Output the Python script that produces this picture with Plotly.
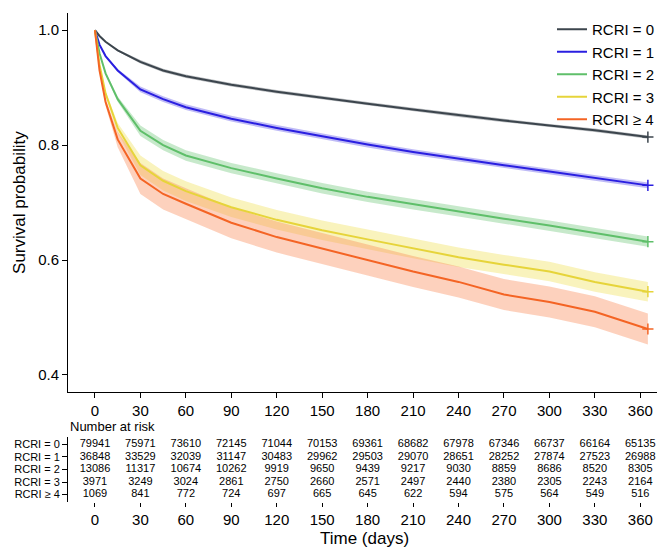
import plotly.graph_objects as go

# survival curve points (days, probability)
days = [0, 3, 7, 15, 30, 45, 60, 90, 120, 150, 180, 210, 240, 270, 300, 330, 365]
surv = {
    "RCRI = 0": [1.0, 0.99, 0.98, 0.965, 0.945, 0.93, 0.92, 0.905, 0.893, 0.882, 0.872, 0.862, 0.852, 0.843, 0.834, 0.826, 0.814],
    "RCRI = 1": [1.0, 0.975, 0.955, 0.93, 0.897, 0.88, 0.866, 0.846, 0.83, 0.815, 0.801, 0.788, 0.776, 0.765, 0.754, 0.743, 0.73],
    "RCRI = 2": [1.0, 0.96, 0.925, 0.88, 0.825, 0.8, 0.782, 0.76, 0.742, 0.725, 0.71, 0.697, 0.685, 0.672, 0.66, 0.647, 0.632],
    "RCRI = 3": [1.0, 0.94, 0.89, 0.83, 0.765, 0.738, 0.72, 0.692, 0.67, 0.652, 0.636, 0.62, 0.605, 0.592, 0.58, 0.562, 0.545],
    "RCRI ≥ 4": [1.0, 0.93, 0.875, 0.81, 0.742, 0.715, 0.698, 0.665, 0.64, 0.62, 0.6, 0.58, 0.562, 0.54, 0.527, 0.51, 0.48],
}
ci_half = {"RCRI = 0": 0.003, "RCRI = 1": 0.005, "RCRI = 2": 0.009, "RCRI = 3": 0.017, "RCRI ≥ 4": 0.027}
colors = {"RCRI = 0": "#3c454d", "RCRI = 1": "#2a1fe0", "RCRI = 2": "#5fbf6a",
          "RCRI = 3": "#e6d43a", "RCRI ≥ 4": "#f46424"}
fills = {"RCRI = 0": "rgba(60,69,77,0.35)", "RCRI = 1": "rgba(42,31,224,0.3)", "RCRI = 2": "rgba(95,191,106,0.35)",
         "RCRI = 3": "rgba(240,225,90,0.4)", "RCRI ≥ 4": "rgba(250,140,90,0.4)"}

risk_times = [0, 30, 60, 90, 120, 150, 180, 210, 240, 270, 300, 330, 360]
at_risk = {
    "RCRI = 0": [79941, 75971, 73610, 72145, 71044, 70153, 69361, 68682, 67978, 67346, 66737, 66164, 65135],
    "RCRI = 1": [36848, 33529, 32039, 31147, 30483, 29962, 29503, 29070, 28651, 28252, 27874, 27523, 26988],
    "RCRI = 2": [13086, 11317, 10674, 10262, 9919, 9650, 9439, 9217, 9030, 8859, 8686, 8520, 8305],
    "RCRI = 3": [3971, 3249, 3024, 2861, 2750, 2660, 2571, 2497, 2440, 2380, 2305, 2243, 2164],
    "RCRI ≥ 4": [1069, 841, 772, 724, 697, 665, 645, 622, 594, 575, 564, 549, 516],
}
groups = list(surv.keys())

fig = go.Figure()
for g in groups:
    lo = [v - ci_half[g] * min(1, d / 30) for v, d in zip(surv[g], days)]
    hi = [v + ci_half[g] * min(1, d / 30) for v, d in zip(surv[g], days)]
    fig.add_trace(go.Scatter(x=days + days[::-1], y=hi + lo[::-1], fill="toself",
                             fillcolor=fills[g], line=dict(width=0), hoverinfo="skip",
                             showlegend=False))
for g in groups:
    fig.add_trace(go.Scatter(x=days, y=surv[g], mode="lines", name=g,
                             line=dict(color=colors[g], width=2)))
    fig.add_trace(go.Scatter(x=[days[-1]], y=[surv[g][-1]], mode="markers", showlegend=False,
                             marker=dict(symbol="cross-thin", size=8, line=dict(color=colors[g], width=1.5))))

for g in groups:
    fig.add_trace(go.Scatter(x=risk_times, y=[g] * len(risk_times), mode="text",
                             text=[str(v) for v in at_risk[g]], textfont=dict(size=11, color="black"),
                             xaxis="x2", yaxis="y2", showlegend=False, cliponaxis=False))

axis_common = dict(showgrid=False, zeroline=False, showline=True, linecolor="black",
                   ticks="outside", tickcolor="black", tickfont=dict(size=15, color="black"),
                   automargin=False)
# the page body adds an 8px offset, so the figure is sized to fill the rest of the window
fig.update_layout(
    width=657, height=541, paper_bgcolor="white", plot_bgcolor="white",
    margin=dict(l=60, r=5, t=5, b=39),
    font=dict(family="Liberation Sans, Arial", color="black"),
    xaxis=dict(axis_common, domain=[0, 1], range=[-17.8, 373], tickvals=risk_times, anchor="y"),
    yaxis=dict(axis_common, domain=[0.237, 1.0], range=[0.370, 1.030], tickvals=[0.4, 0.6, 0.8, 1.0],
               ticktext=["0.4", "0.6", "0.8", "1.0"],
               title=dict(text="Survival probability", font=dict(size=17), standoff=8)),
    xaxis2=dict(axis_common, domain=[0, 1], range=[-17.8, 373], tickvals=risk_times, anchor="y2",
                ticklen=4),
    yaxis2=dict(axis_common, domain=[0.016, 0.147], type="category",
                categoryorder="array", categoryarray=groups[::-1], range=[-0.6, 4.6],
                tickmode="array", tickvals=groups, ticktext=groups,
                tickfont=dict(size=11, color="black")),
    legend=dict(x=1.0, y=1.0, xanchor="right", yanchor="top", font=dict(size=15),
                bgcolor="rgba(0,0,0,0)", tracegroupgap=0),
    annotations=[
        dict(text="Number at risk", xref="paper", yref="paper", x=0.0, y=0.168,
             xanchor="left", yanchor="middle", showarrow=False, font=dict(size=13)),
        dict(text="Time (days)", xref="paper", yref="paper", x=0.5, y=-0.057,
             xanchor="center", yanchor="middle", showarrow=False, font=dict(size=17)),
    ],
)
fig.update_xaxes(showline=False, selector=dict(anchor="y2"))
fig.write_html("out.html")
